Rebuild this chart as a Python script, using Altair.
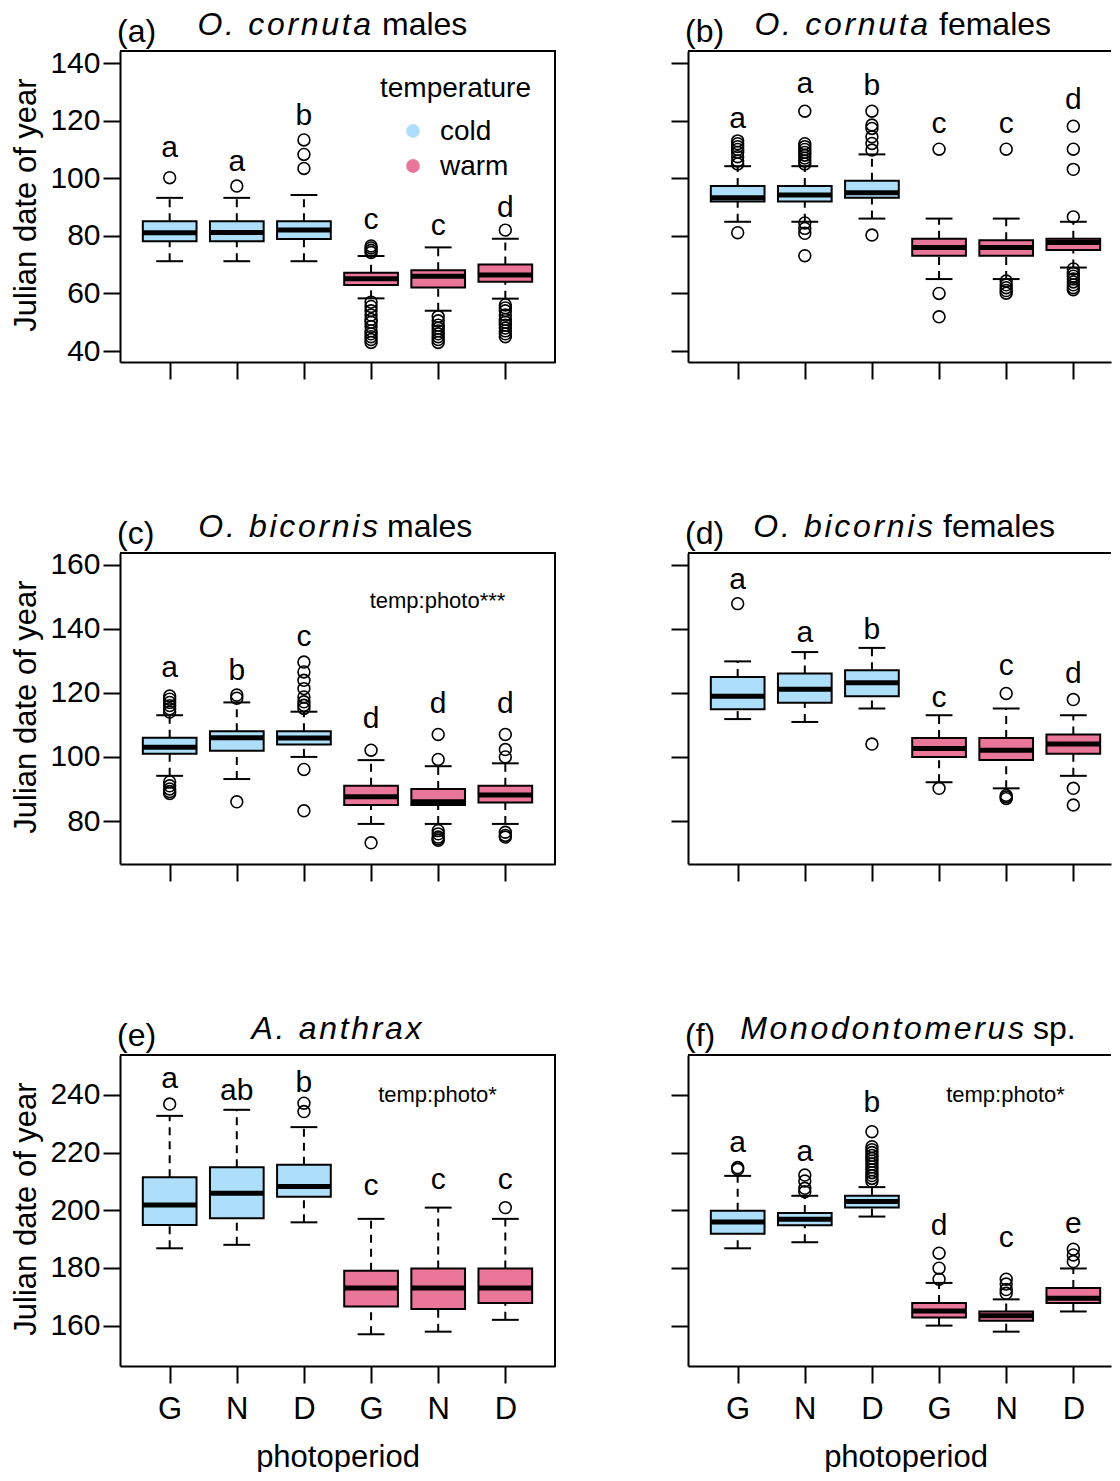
import altair as alt
import pandas as pd

FONT = "Liberation Sans"
TEMPS = ["cold", "warm"]
TEMP_COLORS = ["#ADDFFB", "#EA7799"]
PHOTO_LABELS = ["G", "N", "D", "G", "N", "D"]
POSITIONS = [1, 2, 3, 4, 5, 6]
BOX_TEMP = ["cold", "cold", "cold", "warm", "warm", "warm"]

# ---------------- (a) O. cornuta males ----------------
A_Q1 = [78.1, 78.1, 78.9, 62.9, 62.1, 64.1]
A_MED = [81.1, 81.2, 82.0, 65.1, 66.0, 66.4]
A_Q3 = [85.1, 85.1, 85.1, 67.2, 68.1, 70.1]
A_LO = [71.2, 71.2, 71.2, 58.3, 54.0, 58.2]
A_HI = [93.2, 93.2, 94.2, 73.0, 76.0, 79.0]
A_OUT = [[100.2], [97.3], [103.4, 108.3, 113.3],
         [74.2, 75.0, 75.8, 76.5, 57, 55.5, 54, 52.5, 51, 50, 48.5, 47, 46, 45, 44, 43],
         [52, 50.5, 49, 48, 47, 46, 45, 44, 43],
         [82.0, 56, 55, 54, 52.5, 51, 50, 49, 48, 47, 46, 45]]
A_LET = ["a", "a", "b", "c", "c", "d"]
A_LET_Y = [107.3, 102.5, 118.5, 82.4, 80.3, 86.6]
A_TICKS = [40, 60, 80, 100, 120, 140]

# ---------------- (b) O. cornuta females ----------------
B_Q1 = [91.9, 91.9, 93.2, 73.1, 73.1, 75.1]
B_MED = [93.2, 94.2, 95.0, 76.0, 76.0, 77.7]
B_Q3 = [97.3, 97.3, 99.1, 79.0, 78.5, 79.0]
B_LO = [84.9, 84.9, 86.0, 65.0, 65.0, 69.0]
B_HI = [104.2, 104.2, 108.3, 86.0, 86.0, 84.9]
B_OUT = [[105, 106, 107.5, 109, 110, 111, 112, 113, 81.1],
         [105, 106, 107, 108, 109, 110, 111, 112, 123.3, 84.5, 82.6, 80.9, 73.1],
         [123.3, 118.5, 117.3, 114.4, 112.1, 109.8, 80.3],
         [110.1, 60.0, 51.9],
         [110.1, 64.3, 63, 62, 61, 60.1],
         [118.1, 110.1, 103.1, 86.6, 68.5, 67, 66, 65, 64, 63, 62, 61.3]]
B_LET = ["a", "a", "b", "c", "c", "d"]
B_LET_Y = [117.3, 129.5, 128.9, 115.6, 115.6, 124.2]
B_TICKS = [40, 60, 80, 100, 120, 140]

# ---------------- (c) O. bicornis males ----------------
C_Q1 = [101.0, 101.9, 103.9, 85.0, 85.0, 85.8]
C_MED = [103.0, 106.0, 105.9, 87.6, 86.0, 88.1]
C_Q3 = [106.0, 108.0, 108.0, 91.0, 90.0, 91.0]
C_LO = [94.1, 93.1, 100.0, 79.1, 79.1, 79.1]
C_HI = [113.0, 117.0, 114.1, 99.0, 97.1, 98.0]
C_OUT = [[114, 115, 116, 117, 118, 119, 92.2, 91, 90, 89.2, 88.6],
         [119.3, 118.3, 86.0],
         [129.6, 126.5, 123.9, 121.3, 118.7, 117.2, 116.1, 115.1, 96.1, 83.2],
         [102.1, 73.2],
         [107.0, 99.2, 77, 76, 75, 74.5, 74],
         [107.0, 102.3, 100.0, 76.5, 75.5, 75]]
C_LET = ["a", "b", "c", "d", "d", "d"]
C_LET_Y = [125.0, 123.9, 134.5, 108.9, 113.7, 113.7]
C_TICKS = [80, 100, 120, 140, 160]

# ---------------- (d) O. bicornis females ----------------
D_Q1 = [114.9, 116.9, 118.9, 100.0, 99.0, 101.0]
D_MED = [118.9, 121.1, 123.1, 102.6, 102.1, 104.0]
D_Q3 = [124.9, 126.0, 127.0, 105.9, 105.9, 107.0]
D_LO = [111.8, 110.9, 115.1, 92.1, 90.2, 94.1]
D_HI = [129.8, 132.7, 134.0, 113.0, 115.1, 113.0]
D_OUT = [[147.8], [], [104.0], [90.2], [119.8, 88, 87.5, 87], [117.9, 90.2, 85.0]]
D_LET = ["a", "a", "b", "c", "c", "d"]
D_LET_Y = [152.5, 135.8, 136.9, 115.6, 125.5, 122.9]
D_TICKS = [80, 100, 120, 140, 160]

# ---------------- (e) A. anthrax ----------------
E_Q1 = [194.9, 197.2, 204.7, 166.6, 165.8, 167.8]
E_MED = [201.8, 205.9, 208.2, 173.0, 173.0, 173.0]
E_Q3 = [211.4, 214.9, 215.8, 179.0, 179.8, 179.8]
E_LO = [186.8, 188.0, 195.8, 157.0, 157.9, 162.0]
E_HI = [232.7, 234.8, 228.8, 197.0, 200.9, 197.0]
E_OUT = [[236.8], [], [237.1, 234.2], [], [], [200.9]]
E_LET = ["a", "ab", "b", "c", "c", "c"]
E_LET_Y = [242.3, 238.2, 241.1, 205.3, 207.4, 207.4]
E_TICKS = [160, 180, 200, 220, 240]

# ---------------- (f) Monodontomerus sp. ----------------
F_Q1 = [191.8, 194.8, 200.9, 162.8, 161.7, 167.8]
F_MED = [195.9, 196.9, 203.0, 165.1, 163.4, 169.5]
F_Q3 = [199.8, 199.0, 205.0, 167.8, 164.9, 173.0]
F_LO = [186.8, 188.9, 197.8, 160.0, 157.9, 164.9]
F_HI = [211.9, 205.0, 208.0, 174.8, 169.1, 179.8]
F_OUT = [[214.8, 214.2],
         [212.2, 210.1, 207.6, 206.4],
         [227.2, 222, 221, 220, 219, 218, 217, 216, 215, 214, 213, 212, 211, 210],
         [185.1, 179.9, 176.1],
         [176.1, 174.4, 172.5, 171.2],
         [186.5, 184.5, 182.2]]
F_LET = ["a", "a", "b", "d", "c", "e"]
F_LET_Y = [220.3, 217.2, 234.2, 191.4, 187.4, 192.2]
F_TICKS = [160, 180, 200, 220, 240]

NOTES = {"c": "temp:photo***", "e": "temp:photo*", "f": "temp:photo*"}

# ---------------- layout / style ----------------
BOXWEX = 0.8
STAPLE = 0.4
H = 311
SP = "\u200a"
TITLE_FS = 32
PX_PER_UNIT = 435 / 6.48


def spaced(s):
    return SP.join(list(s))


def panel(tag, species, suffix, q1, med, q3, lo, hi, outs, letters, letter_y,
          yticks, ydomain, col, row, split, note=None, legend=False):
    left = col == 0
    bottom = row == 2
    W = 435 if left else 423
    xdom = [0.26, 0.26 + W / PX_PER_UNIT]

    boxes = pd.DataFrame(dict(pos=POSITIONS, temp=BOX_TEMP, q1=q1, med=med, q3=q3,
                              lo=lo, hi=hi, letter=letters, ly=letter_y))
    boxes["xl"] = boxes["pos"] - BOXWEX / 2
    boxes["xr"] = boxes["pos"] + BOXWEX / 2
    boxes["cl"] = boxes["pos"] - STAPLE / 2
    boxes["cr"] = boxes["pos"] + STAPLE / 2
    outl = pd.DataFrame([(p, v) for p, vals in zip(POSITIONS, outs) for v in vals],
                        columns=["pos", "val"])

    xs = alt.Scale(domain=xdom, nice=False, zero=False)
    ys = alt.Scale(domain=ydomain, nice=False, zero=False)

    label_expr = "[" + ",".join("'%s'" % s for s in PHOTO_LABELS) + "][datum.value - 1]"
    xaxis = alt.Axis(values=POSITIONS, labelExpr=label_expr, labels=bottom,
                     title="photoperiod" if bottom else None,
                     tickSize=17, tickWidth=2, tickColor="black", domain=True,
                     domainColor="black", domainWidth=2, grid=False,
                     labelFont=FONT, labelFontSize=31, labelColor="black", labelPadding=11,
                     titleFont=FONT, titleFontSize=31, titleFontWeight="normal",
                     titleColor="black", titleX=217.5, titleY=100,
                     titleBaseline="alphabetic", titleAlign="center")
    yaxis = alt.Axis(values=yticks, labels=left,
                     title="Julian date of year" if left else None,
                     tickSize=17, tickWidth=2, tickColor="black", domain=True,
                     domainColor="black", domainWidth=2, grid=False,
                     labelFont=FONT, labelFontSize=30, labelColor="black", labelPadding=3,
                     titleFont=FONT, titleFontSize=31, titleFontWeight="normal",
                     titleColor="black", titleX=-85, titleY=H / 2 - 2, titleAngle=270,
                     titleBaseline="alphabetic", titleAlign="center")

    def X(f):
        return alt.X(f, scale=xs, axis=xaxis)

    def Y(f):
        return alt.Y(f, scale=ys, axis=yaxis)

    base = alt.Chart(boxes)
    layers = []
    # whiskers (dashed)
    layers.append(base.mark_rule(color="black", strokeWidth=2, strokeDash=[8, 6]).encode(
        x=X("pos:Q"), y=Y("q3:Q"), y2="hi:Q"))
    layers.append(base.mark_rule(color="black", strokeWidth=2, strokeDash=[8, 6]).encode(
        x=X("pos:Q"), y=Y("lo:Q"), y2="q1:Q"))
    # caps
    layers.append(base.mark_rule(color="black", strokeWidth=2).encode(
        x=X("cl:Q"), x2="cr:Q", y=Y("hi:Q")))
    layers.append(base.mark_rule(color="black", strokeWidth=2).encode(
        x=X("cl:Q"), x2="cr:Q", y=Y("lo:Q")))
    # boxes
    layers.append(base.mark_rect(stroke="black", strokeWidth=2).encode(
        x=X("xl:Q"), x2="xr:Q", y=Y("q1:Q"), y2="q3:Q",
        color=alt.Color("temp:N", scale=alt.Scale(domain=TEMPS, range=TEMP_COLORS), legend=None)))
    # medians
    layers.append(base.mark_rule(color="black", strokeWidth=5).encode(
        x=X("xl:Q"), x2="xr:Q", y=Y("med:Q")))
    # outliers
    if len(outl):
        layers.append(alt.Chart(outl).mark_point(shape="circle", filled=False, color="black",
                                                 size=140, strokeWidth=1.6, opacity=1).encode(
            x=X("pos:Q"), y=Y("val:Q")))
    # letters
    layers.append(base.mark_text(font=FONT, fontSize=30, color="black", align="center",
                                 baseline="alphabetic").encode(
        x=X("pos:Q"), y=Y("ly:Q"), text="letter:N"))

    one = pd.DataFrame({"tag": [tag], "sp": [spaced(species)], "suf": [suffix],
                        "note": [note or ""]})
    ob = alt.Chart(one)
    # frame: top (+ right for left panels)
    layers.append(ob.mark_rule(color="black", strokeWidth=2).encode(
        x=alt.value(0), x2=alt.value(W), y=alt.value(0)))
    if left:
        layers.append(ob.mark_rule(color="black", strokeWidth=2, strokeCap="square").encode(
            x=alt.value(W), y=alt.value(0), y2=alt.value(H)))
    # titles
    layers.append(ob.mark_text(font=FONT, fontSize=TITLE_FS, color="black", align="left",
                               baseline="alphabetic").encode(
        x=alt.value(-3), y=alt.value(-9), text="tag:N"))
    if suffix:
        layers.append(ob.mark_text(font=FONT, fontSize=TITLE_FS, fontStyle="italic", color="black",
                                   align="right", baseline="alphabetic").encode(
            x=alt.value(split[0]), y=alt.value(-16), text="sp:N"))
        layers.append(ob.mark_text(font=FONT, fontSize=TITLE_FS, color="black", align="left",
                                   baseline="alphabetic").encode(
            x=alt.value(split[1]), y=alt.value(-16), text="suf:N"))
    else:
        layers.append(ob.mark_text(font=FONT, fontSize=TITLE_FS, fontStyle="italic", color="black",
                                   align="center", baseline="alphabetic").encode(
            x=alt.value(split[0]), y=alt.value(-16), text="sp:N"))
    if note:
        layers.append(ob.mark_text(font=FONT, fontSize=22, color="black", align="center",
                                   baseline="alphabetic").encode(
            x=alt.value(317.5), y=alt.value(55 if row == 1 else 47), text="note:N"))
    if legend:
        leg = pd.DataFrame({"title": ["temperature"], "t0": [TEMPS[0]], "t1": [TEMPS[1]]})
        lb = alt.Chart(leg)
        layers.append(lb.mark_text(font=FONT, fontSize=28, color="black", align="center",
                                   baseline="alphabetic").encode(
            x=alt.value(335.5), y=alt.value(46), text="title:N"))
        for i, (ty, py) in enumerate([(89, 80), (124, 115)]):
            layers.append(lb.mark_point(shape="circle", filled=True, size=190, opacity=1,
                                        color=TEMP_COLORS[i]).encode(
                x=alt.value(293), y=alt.value(py)))
            layers.append(lb.mark_text(font=FONT, fontSize=28, color="black", align="left",
                                       baseline="alphabetic").encode(
                x=alt.value(320), y=alt.value(ty), text="t%d:N" % i))

    return alt.layer(*layers).properties(width=W, height=H)


pa = panel("(a)", "O. cornuta", "males", A_Q1, A_MED, A_Q3, A_LO, A_HI, A_OUT, A_LET, A_LET_Y,
           A_TICKS, [36.2, 144.2], 0, 0, (251, 262), legend=True)
pb = panel("(b)", "O. cornuta", "females", B_Q1, B_MED, B_Q3, B_LO, B_HI, B_OUT, B_LET, B_LET_Y,
           B_TICKS, [36.2, 144.2], 1, 0, (240, 251))
pc = panel("(c)", "O. bicornis", "males", C_Q1, C_MED, C_Q3, C_LO, C_HI, C_OUT, C_LET, C_LET_Y,
           C_TICKS, [66.6, 163.6], 0, 1, (258, 267), note=NOTES["c"])
pd_ = panel("(d)", "O. bicornis", "females", D_Q1, D_MED, D_Q3, D_LO, D_HI, D_OUT, D_LET, D_LET_Y,
            D_TICKS, [66.6, 163.6], 1, 1, (245, 255))
pe = panel("(e)", "A. anthrax", "", E_Q1, E_MED, E_Q3, E_LO, E_HI, E_OUT, E_LET, E_LET_Y,
           E_TICKS, [146.0, 253.8], 0, 2, (216.5, 0), note=NOTES["e"])
pf = panel("(f)", "Monodontomerus", "sp.", F_Q1, F_MED, F_Q3, F_LO, F_HI, F_OUT, F_LET, F_LET_Y,
           F_TICKS, [146.0, 253.8], 1, 2, (336, 345), note=NOTES["f"])

chart = alt.concat(pa, pb, pc, pd_, pe, pf, columns=2,
                   spacing={"row": 191, "column": 133}, bounds="flush").properties(
    padding={"left": 2, "top": 1, "right": 0, "bottom": 0},
    background="white",
).configure_view(strokeWidth=0)

chart.save("out.html", embed_options={"renderer": "svg", "actions": False})
